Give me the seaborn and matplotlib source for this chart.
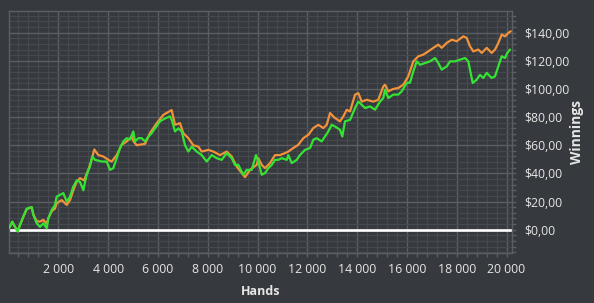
import numpy as np
import pandas as pd
import seaborn as sns
import matplotlib
matplotlib.use("Agg")
import matplotlib.pyplot as plt
from matplotlib.ticker import MultipleLocator, FuncFormatter

# ---- data ----
green_hands = [20, 153, 261, 369, 462, 594, 731, 932, 996, 1133, 1265, 1398, 1534, 1598,
               1735, 1867, 1936, 2068, 2201, 2337, 2470, 2602, 2739, 2871, 3004, 3140, 3273,
               3365, 3474, 3743, 3944, 4076, 4209, 4345, 4478, 4610, 4747, 4879, 5012, 5080,
               5213, 5349, 5482, 5614, 5751, 5884, 6084, 6285, 6486, 6554, 6687, 6819, 6956,
               7088, 7221, 7357, 7558, 7759, 7960, 8161, 8361, 8562, 8763, 8964, 9096, 9229,
               9430, 9566, 9767, 9940, 10032, 10169, 10301, 10434, 10570, 10703, 10835, 10972,
               11173, 11237, 11374, 11574, 11707, 11908, 12109, 12241, 12377, 12578, 12711,
               12843, 12980, 13112, 13313, 13406, 13514, 13715, 13916, 14048, 14185, 14317,
               14518, 14719, 14920, 15052, 15121, 15253, 15454, 15655, 15791, 15992, 16124,
               16257, 16393, 16526, 16727, 16928, 17129, 17261, 17397, 17598, 17731, 17932,
               18132, 18333, 18466, 18534, 18642, 18803, 18935, 19068, 19205, 19405, 19538,
               19671, 19807, 19940, 20032, 20141]
green_won = [1, 5.7, 2, -1.4, 3.3, 9.3, 15, 16, 10.5, 4.5, 2, 4.5, 1, 8,
             14, 17.6, 23.5, 24.7, 26, 20, 23.5, 30.6, 35, 34, 28, 39, 45,
             52, 49.6, 48.4, 48.4, 42.5, 43.7, 50.8, 58, 62.7, 65, 64, 69.8, 62.7,
             65, 65, 62.7, 66, 68.6, 72, 77, 79, 80.5, 78, 69.8, 72, 69.8,
             60, 55.5, 59, 55.5, 53, 48.4, 53, 50.8, 49.6, 54.4, 50.8, 46, 46,
             39, 42.5, 42.5, 53, 48.4, 39, 40.2, 43.7, 46, 49.6, 49.6, 50.8,
             49.6, 53, 47.3, 49.6, 53, 56.7, 58, 63.9, 65, 62.7, 66.2,
             69.8, 74.5, 73.3, 71, 66.2, 77, 78, 86.4, 91, 88.8, 86.4,
             87.6, 85.2, 91, 93.5, 99.5, 93.5, 96, 96, 98.3, 104.2, 104.5,
             112.5, 119.6, 117.2, 118.4, 119.6, 122, 118.4, 113.7, 116, 119.6, 119.6,
             120.8, 122, 119.6, 113.7, 104.2, 106.6, 110, 107.8, 111.4, 107.8, 109,
             116, 123.2, 122, 125.6, 128]

orange_hands = [20, 153, 261, 369, 462, 594, 731, 932, 996, 1133, 1265, 1398, 1534, 1598,
                1735, 1867, 1936, 2137, 2337, 2470, 2602, 2739, 2871, 3032, 3205, 3313, 3446,
                3606, 3807, 4008, 4144, 4345, 4546, 4747, 4948, 5012, 5148, 5482, 5683, 5952,
                6217, 6554, 6687, 6888, 7020, 7221, 7422, 7622, 7759, 8024, 8225, 8493, 8763,
                8964, 9165, 9498, 9699, 9968, 10032, 10169, 10301, 10502, 10703, 10903, 11104,
                11237, 11437, 11638, 11839, 12040, 12241, 12442, 12643, 12779, 12912, 13112,
                13313, 13446, 13582, 13715, 13916, 14048, 14185, 14386, 14651, 14851, 15052,
                15121, 15253, 15454, 15655, 15855, 16056, 16257, 16458, 16658, 16859, 17060,
                17261, 17397, 17598, 17799, 18000, 18265, 18401, 18534, 18666, 18867, 19004,
                19205, 19405, 19538, 19671, 19807, 19940, 20072, 20169]
orange_won = [1, 5.5, 2, -1, 3.3, 9, 14.5, 16, 11, 6, 5.7, 7, 4, 8,
              13, 15, 18.8, 21, 17.6, 21, 28, 34, 36.6, 35, 42.5, 48.4, 57,
              53, 52, 49.6, 48.4, 53, 60.3, 62.7, 66.2, 63, 60, 61, 68.6, 75.7,
              81.6, 85, 74.5, 75.7, 68.6, 65, 60, 59, 55.5, 56.7, 55.5, 53, 55.5,
              52, 44.8, 37.3, 42.5, 46, 50.8, 46, 43.7, 47.3, 53, 53, 54.4,
              55.5, 58, 60.3, 65, 67.4, 72.2, 74.5, 72.2, 74.5, 82.9, 79.3,
              77, 80.5, 85.2, 84, 95.9, 97, 91, 92.3, 91, 92.3, 101.8,
              103, 98.3, 100, 100.7, 103, 109, 119.6, 123.2, 124.4, 126.7, 129.2,
              131.5, 129.2, 132.7, 135, 133.9, 137.4, 136.3, 130.3, 126.7, 128, 125.6,
              129.2, 125.6, 128, 132.7, 138.6, 137.4, 139.8, 141]

series_names = ["All-in EV", "Net won"]

df = pd.concat([
    pd.DataFrame({"Hands": orange_hands, "Winnings": orange_won, "series": series_names[0]}),
    pd.DataFrame({"Hands": green_hands, "Winnings": green_won, "series": series_names[1]}),
], ignore_index=True)

# ---- styling ----
BG = "#36393d"
MAJOR = "#5b5e62"
MINOR = "#45484c"
TXT = "#e6e6e6"

sns.set_style("dark")
plt.rcParams["font.family"] = ["Open Sans", "DejaVu Sans"]

fig = plt.figure(figsize=(5.94, 3.03), dpi=100, facecolor=BG)
ax = fig.add_axes([9 / 594, 50 / 303, 502.7 / 594, 242 / 303])
ax.set_facecolor(BG)

ax.axhline(0, color="white", lw=1.9, zorder=2)

sns.lineplot(data=df, x="Hands", y="Winnings", hue="series",
             palette={series_names[0]: "#f2923a", series_names[1]: "#35e335"},
             hue_order=series_names, estimator=None, sort=True, lw=1.6,
             legend=False, ax=ax, zorder=3)

ax.set_xlim(20, 20208)
ax.set_ylim(-16.6, 155.4)

ax.xaxis.set_major_locator(MultipleLocator(2000))
ax.xaxis.set_minor_locator(MultipleLocator(400))
ax.yaxis.set_major_locator(MultipleLocator(20))
ax.yaxis.set_minor_locator(MultipleLocator(4))

ax.xaxis.set_major_formatter(FuncFormatter(lambda v, p: f"{int(round(v)):,}".replace(",", " ")))
ax.yaxis.set_major_formatter(FuncFormatter(lambda v, p: ("$" + f"{v:.2f}").replace(".", ",")))

ax.grid(True, which="major", color=MAJOR, lw=1.0, zorder=0)
ax.grid(True, which="minor", color=MINOR, lw=0.9, zorder=0)
ax.set_axisbelow(True)

ax.yaxis.tick_right()
ax.tick_params(axis="both", which="both", colors=MAJOR, labelcolor=TXT,
               labelsize=8.8, length=3, width=1)
ax.tick_params(axis="x", which="both", bottom=True, pad=4)
ax.tick_params(axis="y", which="both", right=True, left=False, pad=6)

for s in ax.spines.values():
    s.set_visible(True)
    s.set_color(MAJOR)
    s.set_linewidth(1.0)

ax.set_xlabel("Hands", color=TXT, fontsize=9, fontweight="bold")
ax.set_ylabel("Winnings", color=TXT, fontsize=10, fontweight="bold")
ax.xaxis.set_label_coords(0.5, -0.16)
ax.xaxis.label.set_va("center")
ax.yaxis.set_label_position("right")
ax.yaxis.set_label_coords(1.129, 0.5)
ax.yaxis.label.set_va("center")
ax.yaxis.label.set_rotation(90)

fig.savefig("out.png", dpi=100, facecolor=BG)
